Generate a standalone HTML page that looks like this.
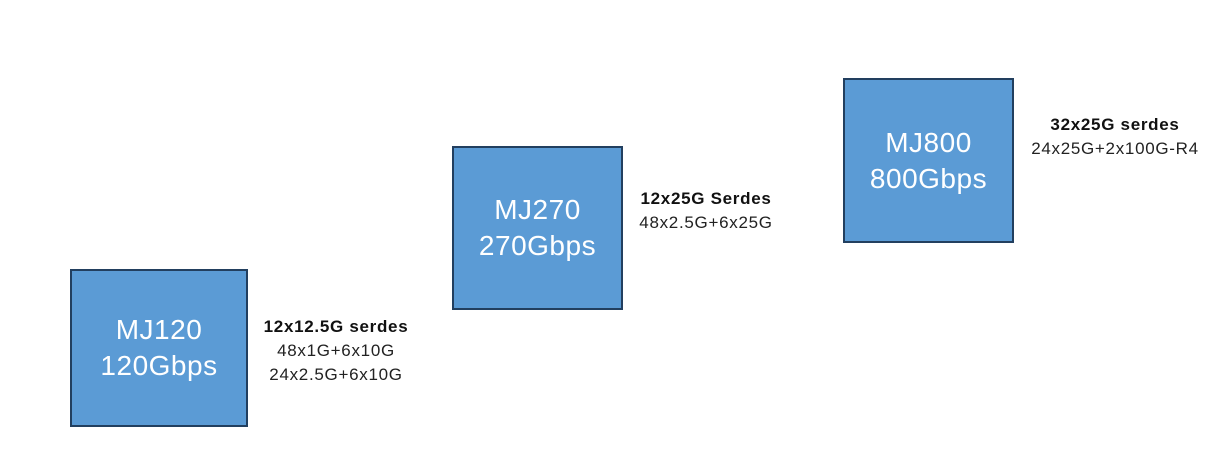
<!DOCTYPE html>
<html><head><style>
body{margin:0;width:1228px;height:452px;background:#fff;position:relative;overflow:hidden;font-family:"Liberation Sans","Noto Sans CJK SC",sans-serif;}
.b{position:absolute;box-sizing:border-box;background:#5B9BD5;border:2px solid #223F5F;color:#fff;font-size:28px;letter-spacing:0.5px;line-height:36px;display:flex;flex-direction:column;justify-content:center;align-items:center;}
.l{position:absolute;width:300px;text-align:center;font-size:17px;letter-spacing:0.7px;line-height:24px;color:#222;}
.l b{font-weight:bold;color:#111;}
</style></head><body>
<div class="b" style="left:70px;top:269px;width:178px;height:158px"><div>MJ120</div><div>120Gbps</div></div>
<div class="b" style="left:452px;top:146px;width:171px;height:164px"><div>MJ270</div><div>270Gbps</div></div>
<div class="b" style="left:843px;top:78px;width:171px;height:165px"><div>MJ800</div><div>800Gbps</div></div>
<div class="l" style="left:186px;top:315px"><b>12x12.5G serdes</b><br>48x1G+6x10G<br>24x2.5G+6x10G</div>
<div class="l" style="left:556px;top:187px"><b>12x25G Serdes</b><br>48x2.5G+6x25G</div>
<div class="l" style="left:965px;top:113px"><b>32x25G serdes</b><br>24x25G+2x100G-R4</div>
</body></html>
